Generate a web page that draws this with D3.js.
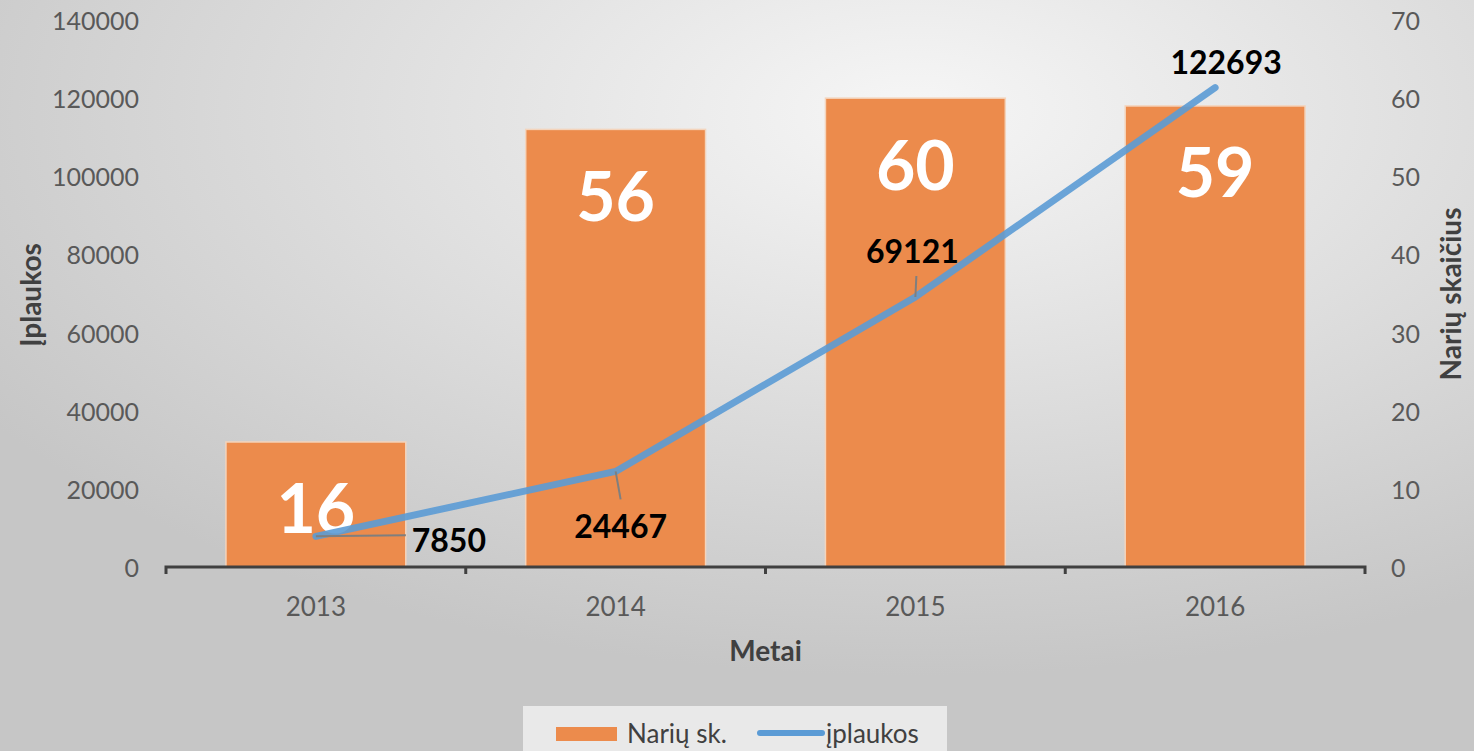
<!DOCTYPE html>
<html>
<head>
<meta charset="utf-8">
<script src="https://cdn.jsdelivr.net/npm/d3@7"></script>
<style>
  body { margin: 0; overflow: hidden; }
  text { font-family: Lato, "Open Sans", sans-serif; }
</style>
</head>
<body>
<div id="chart"></div>
<script>
// data
const years = ["2013", "2014", "2015", "2016"];
const members = [16, 56, 60, 59];
const income = [7850, 24467, 69121, 122693];
const leftTicks = [0, 20000, 40000, 60000, 80000, 100000, 120000, 140000];
const rightTicks = [0, 10, 20, 30, 40, 50, 60, 70];

const W = 1474, H = 751;
const margin = {top: 20, right: 109, bottom: 184, left: 166};

const svg = d3.select("#chart").append("svg")
    .attr("width", W)
    .attr("height", H);

// background gradient
const defs = svg.append("defs");
const grad = defs.append("radialGradient")
    .attr("id", "bg")
    .attr("cx", "62%").attr("cy", "15%").attr("r", "75%");
grad.append("stop").attr("offset", "0%").attr("stop-color", "#f6f6f6");
grad.append("stop").attr("offset", "100%").attr("stop-color", "#c6c6c6");
svg.append("rect").attr("width", W).attr("height", H).attr("fill", "url(#bg)");

const x = d3.scaleBand()
    .domain(years)
    .range([margin.left, W - margin.right])
    .padding(0);

const yL = d3.scaleLinear().domain([0, 140000]).range([H - margin.bottom, margin.top]);
const yR = d3.scaleLinear().domain([0, 70]).range([H - margin.bottom, margin.top]);

const barW = x.bandwidth() * 0.6;

// bars (right axis)
svg.selectAll(".bar")
    .data(years)
    .join("rect")
    .attr("class", "bar")
    .attr("x", (d, i) => x(d) + (x.bandwidth() - barW) / 2)
    .attr("y", (d, i) => yR(members[i]))
    .attr("width", barW)
    .attr("height", (d, i) => yR(0) - yR(members[i]))
    .attr("fill", "#ec8b4c")
    .attr("stroke", "#f4d4bc")
    .attr("stroke-width", 1.5);

// bar labels
svg.selectAll(".barlab")
    .data(years)
    .join("text")
    .attr("x", d => x(d) + x.bandwidth() / 2)
    .attr("y", (d, i) => yR(members[i]) + 65)
    .attr("text-anchor", "middle")
    .attr("dominant-baseline", "central")
    .attr("fill", "#ffffff")
    .style("font-size", "68px")
    .style("font-weight", "bold")
    .text((d, i) => members[i]);

// x axis
const xAxisG = svg.append("g")
    .attr("transform", `translate(0, ${H - margin.bottom})`);
xAxisG.append("path")
    .attr("d", `M${margin.left},7V0H${W - margin.right}V7`)
    .attr("fill", "none")
    .attr("stroke", "#404040")
    .attr("stroke-width", 3);
xAxisG.selectAll(".tk")
    .data(years.slice(1))
    .join("line")
    .attr("x1", d => x(d)).attr("x2", d => x(d))
    .attr("y1", 0).attr("y2", 7)
    .attr("stroke", "#404040")
    .attr("stroke-width", 3);
xAxisG.selectAll(".xl")
    .data(years)
    .join("text")
    .attr("x", d => x(d) + x.bandwidth() / 2)
    .attr("y", 39)
    .attr("text-anchor", "middle")
    .attr("dominant-baseline", "central")
    .attr("fill", "#595959")
    .style("font-size", "26px")
    .text(d => d);

// left axis labels
svg.selectAll(".ltk")
    .data(leftTicks)
    .join("text")
    .attr("x", 139)
    .attr("y", d => yL(d))
    .attr("text-anchor", "end")
    .attr("dominant-baseline", "central")
    .attr("fill", "#595959")
    .style("font-size", "25px")
    .text(d => d);

// right axis labels
svg.selectAll(".rtk")
    .data(rightTicks)
    .join("text")
    .attr("x", 1391)
    .attr("y", d => yR(d))
    .attr("text-anchor", "start")
    .attr("dominant-baseline", "central")
    .attr("fill", "#595959")
    .style("font-size", "25px")
    .text(d => d);

// axis titles
svg.append("text")
    .attr("transform", "translate(30, 295) rotate(-90)")
    .attr("text-anchor", "middle")
    .attr("dominant-baseline", "central")
    .attr("fill", "#404040")
    .style("font-size", "28px")
    .style("font-weight", "bold")
    .text("Įplaukos");

svg.append("text")
    .attr("transform", "translate(1450, 294) rotate(-90)")
    .attr("text-anchor", "middle")
    .attr("dominant-baseline", "central")
    .attr("fill", "#404040")
    .style("font-size", "28px")
    .style("font-weight", "bold")
    .text("Narių skaičius");

svg.append("text")
    .attr("x", x.range()[0] + (x.range()[1] - x.range()[0]) / 2)
    .attr("y", 650)
    .attr("text-anchor", "middle")
    .attr("dominant-baseline", "central")
    .attr("fill", "#404040")
    .style("font-size", "28px")
    .style("font-weight", "bold")
    .text("Metai");

// line (left axis)
const pts = years.map((d, i) => [x(d) + x.bandwidth() / 2, yL(income[i])]);
svg.append("path")
    .attr("d", d3.line()(pts))
    .attr("fill", "none")
    .attr("stroke", "#5b9bd5")
    .attr("stroke-opacity", 0.9)
    .attr("stroke-width", 7)
    .attr("stroke-linecap", "round")
    .attr("stroke-linejoin", "round");

// line labels with leader lines
const labOff = [[133, 3], [5, 54], [-3, -46], [11, -26]];
const leaders = [[[0, 0], [90, -1]], [[0, 0], [5, 28]], [[0, 0], [1, -21]], null];
pts.forEach((p, i) => {
    if (leaders[i]) {
        svg.append("path")
            .attr("d", d3.line()(leaders[i].map(q => [p[0] + q[0], p[1] + q[1]])))
            .attr("stroke", "#7f7f7f")
            .attr("stroke-width", 2)
            .attr("fill", "none");
    }
    svg.append("text")
        .attr("x", p[0] + labOff[i][0])
        .attr("y", p[1] + labOff[i][1])
        .attr("text-anchor", "middle")
        .attr("dominant-baseline", "central")
        .attr("fill", "#000000")
        .style("font-size", "32px")
        .style("font-weight", "bold")
        .text(income[i]);
});

// legend
const lg = svg.append("g");
lg.append("rect")
    .attr("x", 523).attr("y", 706)
    .attr("width", 424).attr("height", 50)
    .attr("fill", "#e9e9e9");
lg.append("rect")
    .attr("x", 556).attr("y", 727)
    .attr("width", 61).attr("height", 14)
    .attr("fill", "#ec8b4c");
lg.append("text")
    .attr("x", 627).attr("y", 733)
    .attr("dominant-baseline", "central")
    .attr("fill", "#404040")
    .style("font-size", "26px")
    .text("Narių sk.");
lg.append("line")
    .attr("x1", 760).attr("x2", 822)
    .attr("y1", 733).attr("y2", 733)
    .attr("stroke", "#5b9bd5")
    .attr("stroke-width", 6)
    .attr("stroke-linecap", "round");
lg.append("text")
    .attr("x", 826).attr("y", 733)
    .attr("dominant-baseline", "central")
    .attr("fill", "#404040")
    .style("font-size", "26px")
    .text("įplaukos");
</script>
</body>
</html>
